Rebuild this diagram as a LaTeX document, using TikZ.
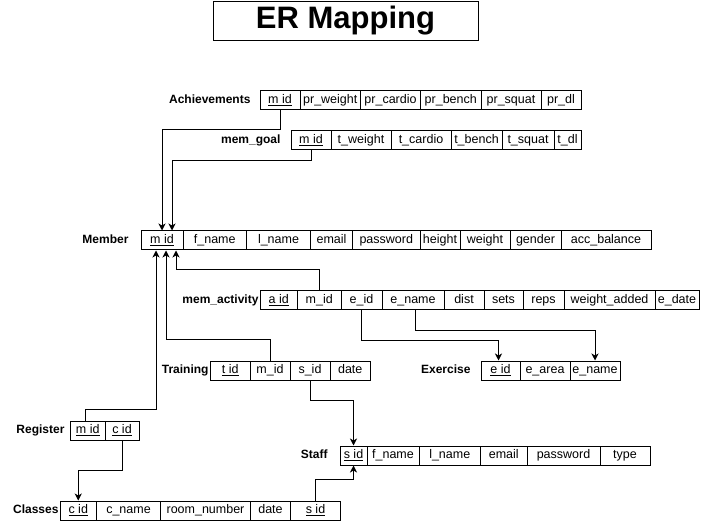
\documentclass[tikz,border=0pt]{standalone}
\usepackage{fontspec}
\setmainfont{Liberation Sans}
\usetikzlibrary{arrows.meta}

\begin{document}
\begin{tikzpicture}[x=1pt, y=-1pt, line width=1pt,
	cell/.style={draw, inner sep=0pt, minimum height=19pt, text height=9pt, text depth=2.6pt,
		font=\fontsize{12.5}{15}\selectfont},
	lbl/.style={anchor=east, inner sep=0pt, text height=9pt, text depth=2.6pt,
		font=\bfseries\fontsize{12}{14}\selectfont},
	link/.style={-{Stealth[length=7pt, width=7pt, inset=2pt]}}]
	\useasboundingbox (0,0) rectangle (701,526);

	% \drawtable#name#y#cells (x1/x2/text)
	\def\drawtable#1#2#3{
		\foreach \xa/\xb/\txt [count=\i] in {#3} {
			\pgfmathsetmacro\w{\xb-\xa}
			\node[cell, minimum width=\w pt] (#1-\i) at ({(\xa+\xb)/2}, #2) {\txt};
		}
	}

	% title
	\node[draw, inner sep=0pt, minimum width=265pt, minimum height=38.5pt,
		font=\bfseries\fontsize{31}{36}\selectfont] (title) at (345.5, 21) {ER Mapping};

	% tables
	\node[lbl] (achlbl) at (251, 100.5) {Achievements};
	\drawtable{ach}{100.5}{260/300/\underline{m id}, 300/360.5/pr\_weight, 360.5/420.5/pr\_cardio,
		420.5/481/pr\_bench, 481/541/pr\_squat, 541/581/pr\_dl}

	\node[lbl] (goallbl) at (281, 140.5) {mem\_goal};
	\drawtable{goal}{140.5}{291/331/\underline{m id}, 331/391/t\_weight, 391/451/t\_cardio,
		451/502/t\_bench, 502/554/t\_squat, 554/581/t\_dl}

	\node[lbl] (memlbl) at (129, 240.5) {Member};
	\drawtable{mem}{240.5}{141/183/\underline{m id}, 183/246.5/f\_name, 246.5/310.5/l\_name,
		310.5/352.5/email, 352.5/420/password, 420/460/height, 460/510/weight,
		510/561/gender, 561/651/acc\_balance}

	\node[lbl] (actlbl) at (259, 300.5) {mem\_activity};
	\drawtable{act}{300.5}{260/297.5/\underline{a id}, 297.5/341/m\_id, 341/382/e\_id,
		382/444/e\_name, 444/484/dist, 484/523/sets, 523/564/reps,
		564/655/weight\_added, 655/699/e\_date}

	\node[lbl] (trnlbl) at (209, 370.5) {Training};
	\drawtable{trn}{370.5}{210.5/250/\underline{t id}, 250/290/m\_id, 290/330/s\_id, 330/370.5/date}

	\node[lbl] (exelbl) at (471, 370.5) {Exercise};
	\drawtable{exe}{370.5}{481/520/\underline{e id}, 520/570/e\_area, 570/620/e\_name}

	\node[lbl] (reglbl) at (65, 430.5) {Register};
	\drawtable{reg}{430.5}{70.5/105/\underline{m id}, 105/139/\underline{c id}}

	\node[lbl] (stflbl) at (328, 455.5) {Staff};
	\drawtable{stf}{455.5}{340/367/\underline{s id}, 367/419/f\_name, 419/480.5/l\_name,
		480.5/527/email, 527/600/password, 600/650/type}

	\node[lbl] (clslbl) at (59, 510.5) {Classes};
	\drawtable{cls}{510.5}{60/96.5/\underline{c id}, 96.5/160.5/c\_name, 160.5/250.5/room\_number,
		250.5/290.5/date, 290.5/340.5/\underline{s id}}

	% links to Member
	\draw[link] (ach-1.south) -- ++(0,19) -| (mem-1.north);
	\draw[link] (goal-1.south) -- ++(0,10) -| ([xshift=10pt]mem-1.north);
	\draw[link] (act-2.north) -- ++(0,-21) -| ([xshift=14pt]mem-1.south);
	\draw[link] (trn-2.north) -- ++(0,-21) -| ([xshift=4pt]mem-1.south);
	\draw[link] ([xshift=-2pt]reg-1.north) -- ++(0,-11) -| ([xshift=-6pt]mem-1.south);

	% links to Exercise
	\draw[link] (act-3.south) -- ++(0,30) -| ([xshift=-2pt]exe-1.north);
	\draw[link] ([xshift=2pt]act-4.south) -- ++(0,20) -| (exe-3.north);

	% links to Staff and Classes
	\draw[link] (trn-3.south) -- ++(0,20) -| (stf-1.north);
	\draw[link] (cls-5.north) -- ++(0,-21) -| (stf-1.south);
	\draw[link] (reg-2.south) -- ++(0,30) -| (cls-1.north);
\end{tikzpicture}
\end{document}
